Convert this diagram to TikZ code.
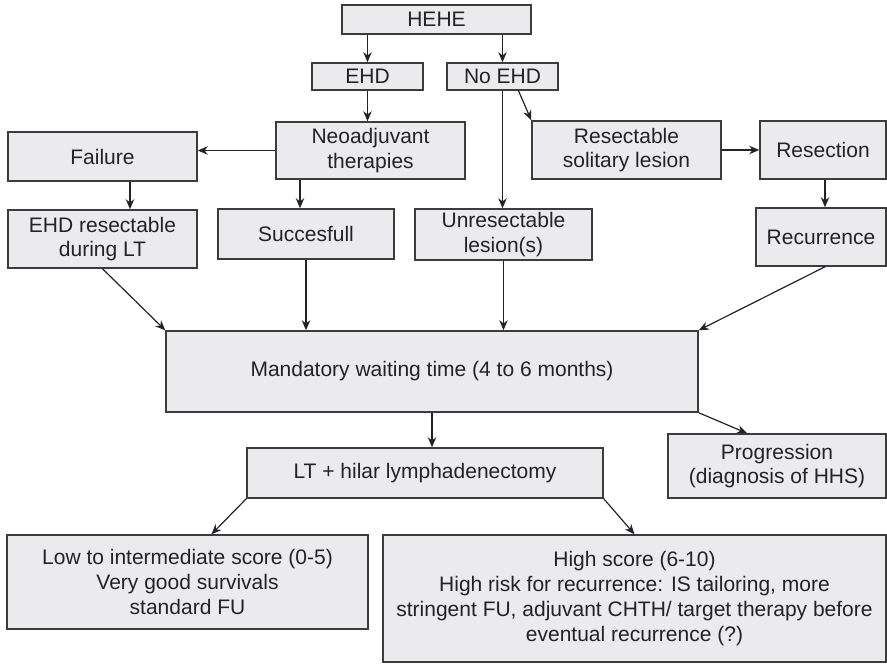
\documentclass[tikz,border=0pt]{standalone}
\usepackage{fontspec}
\setmainfont{Liberation Sans}
\usetikzlibrary{arrows.meta}
\definecolor{boxfill}{RGB}{235,235,237}
\definecolor{boxline}{RGB}{60,60,60}
\definecolor{inkgray}{RGB}{35,35,35}

\tikzset{
  box/.style={draw=boxline, fill=boxfill, line width=0.75pt, inner sep=0pt,
    align=center, text=inkgray, font=\fontsize{10.5}{12.4}\selectfont},
  wh/.style 2 args={minimum width=#1*0.5pt, minimum height=#2*0.5pt},
  arr/.style={-{Stealth[length=5pt,width=4.2pt,inset=1.6pt]}, line width=0.6pt, draw=inkgray}
}

\begin{document}
\begin{tikzpicture}[x=0.5pt,y=-0.5pt]
        % picture measured in pixels of the 887 x 664 figure, y downwards
        \useasboundingbox (0,0) rectangle (887,664);

        % top row
        \node[box, wh={189}{29}] (hehe)  at (436.5,19.5) {HEHE};
        \node[box, wh={111}{27}] (ehd)   at (367.5,76.5) {EHD};
        \node[box, wh={111}{27}] (noehd) at (502.5,76.5) {No EHD};

        % second row
        \node[box, wh={189}{49}] (fail)  at (102.5,156.5) {Failure};
        \node[box, wh={189}{57}] (neo)   at (370.5,150.5) {Neoadjuvant\\therapies};
        \node[box, wh={189}{58}] (solit) at (626.5,150) {Resectable\\solitary lesion};
        \node[box, wh={126}{58}] (resec) at (823,150) {Resection};

        % third row
        \node[box, wh={189}{58}] (ehdres) at (102.5,239) {EHD resectable\\during LT};
        \node[box, wh={176}{50}] (succ)   at (306,234) {Succesfull};
        \node[box, wh={177}{51}] (unres)  at (503.5,234.5) {Unresectable\\lesion(s)};
        \node[box, wh={130}{58}] (recur)  at (821,237) {Recurrence};

        % waiting time and transplant
        \node[box, wh={532}{81}] (wait) at (432,371.5) {Mandatory waiting time (4 to 6 months)};
        \node[box, wh={356}{50}] (lt)   at (425,473) {LT + hilar lymphadenectomy};
        \node[box, wh={218}{64}] (prog) at (777,466) {Progression\\(diagnosis of HHS)};

        % scores
        \node[box, wh={361}{94}] (low)  at (187.5,582) {Low to intermediate score (0-5)\\Very good survivals\\standard FU};
        \node[box, wh={503}{127}] (high) at (634.5,598.5) {High score (6-10)\\High risk for recurrence: IS tailoring, more\\stringent FU, adjuvant CHTH/ target therapy before\\eventual recurrence (?)};

        % connectors
        \draw[arr] (hehe.south -| ehd.north) -- (ehd.north);
        \draw[arr] (hehe.south -| noehd.north) -- (noehd.north);
        \draw[arr] (ehd.south) -- (ehd.south |- neo.north);
        \draw[arr] (neo.west) -- (neo.west -| fail.east);
        \draw[arr] (300,0 |- neo.south) -- (300,0 |- succ.north);
        \draw[arr] (130,0 |- fail.south) -- (130,0 |- ehdres.north);
        \draw[arr] (noehd.south) -- (noehd.south |- unres.north);
        \draw[arr] ([xshift=8pt]noehd.south) -- (solit.north west);
        \draw[arr] (solit.east) -- (solit.east -| resec.west);
        \draw[arr] (825,0 |- resec.south) -- (825,0 |- recur.north);

        \draw[arr] (ehdres.south) -- (wait.north west);
        \draw[arr] (succ.south) -- (succ.south |- wait.north);
        \draw[arr] (unres.south) -- (unres.south |- wait.north);
        \draw[arr] ([xshift=2pt]recur.south) -- (wait.north east);

        \draw[arr] (wait.south) -- (wait.south |- lt.north);
        \draw[arr] (wait.south east) -- ([xshift=-15pt]prog.north);
        \draw[arr] (lt.south west) -- ([xshift=12pt]low.north);
        \draw[arr] (lt.south east) -- (high.north);

    \end{tikzpicture}
\end{document}
